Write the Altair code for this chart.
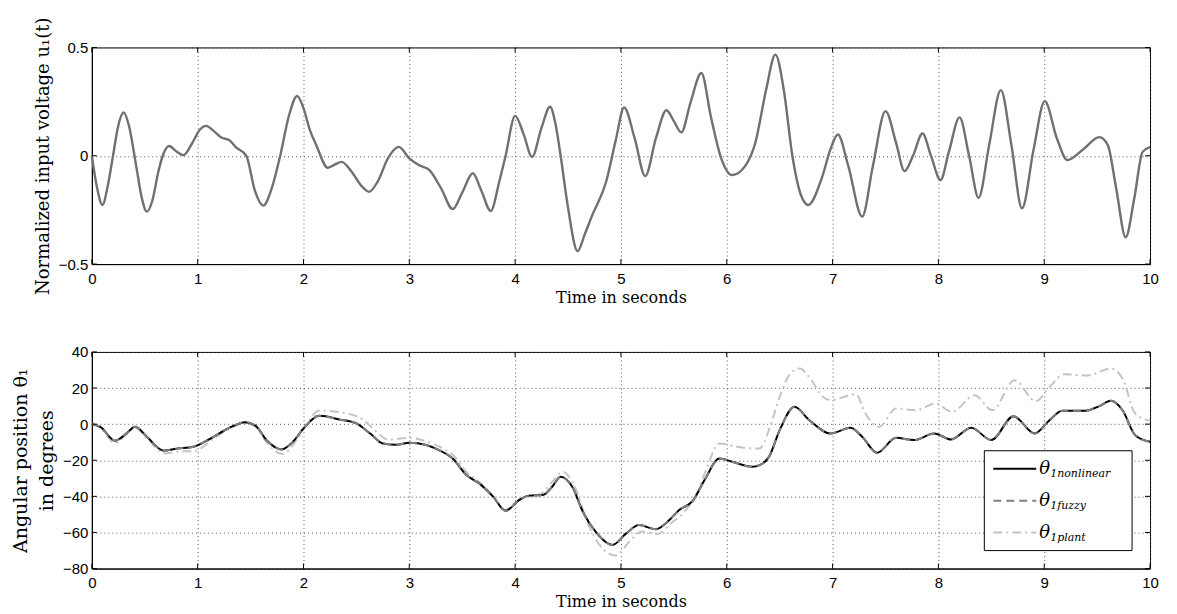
import altair as alt
import pandas as pd

# ---------------- data ----------------
t_u = [0.00, 0.05, 0.10, 0.15, 0.20, 0.25, 0.30, 0.35, 0.42, 0.47, 0.52, 0.57, 0.63, 0.67, 0.73, 0.80,
       0.865, 0.95, 1.02, 1.08, 1.15, 1.22, 1.30, 1.36, 1.46, 1.54, 1.62, 1.70, 1.78, 1.86, 1.94, 2.00,
       2.06, 2.12, 2.23, 2.30, 2.36, 2.45, 2.55, 2.62, 2.70, 2.80, 2.90, 3.00, 3.09, 3.19, 3.30, 3.41,
       3.50, 3.60, 3.68, 3.77, 3.85, 3.91, 4.00, 4.08, 4.16, 4.25, 4.33, 4.38, 4.43, 4.50, 4.59, 4.66,
       4.73, 4.86, 4.95, 5.03, 5.13, 5.23, 5.33, 5.43, 5.50, 5.57, 5.66, 5.76, 5.85, 5.94, 6.05, 6.18,
       6.27, 6.37, 6.46, 6.54, 6.62, 6.70, 6.77, 6.90, 6.98, 7.05, 7.15, 7.28, 7.38, 7.50, 7.60, 7.68,
       7.76, 7.85, 7.93, 8.02, 8.10, 8.20, 8.29, 8.38, 8.48, 8.59, 8.69, 8.79, 8.90, 9.005, 9.12, 9.22,
       9.37, 9.52, 9.60, 9.68, 9.77, 9.85, 9.93, 10.0]
u1 = [0.00, -0.15, -0.227, -0.14, 0.00, 0.14, 0.20, 0.14, -0.05, -0.19, -0.258, -0.21, -0.07, 0.00, 0.045, 0.02,
      0.003, 0.06, 0.12, 0.138, 0.115, 0.085, 0.072, 0.04, 0.00, -0.16, -0.23, -0.15, 0.00, 0.18, 0.276, 0.22,
      0.12, 0.05, -0.055, -0.04, -0.028, -0.07, -0.14, -0.166, -0.12, -0.01, 0.041, -0.012, -0.043, -0.066, -0.15, -0.246,
      -0.17, -0.081, -0.16, -0.255, -0.12, 0.00, 0.184, 0.10, -0.005, 0.13, 0.226, 0.15, 0.00, -0.24, -0.44, -0.36,
      -0.273, -0.12, 0.07, 0.223, 0.08, -0.094, 0.08, 0.21, 0.16, 0.108, 0.25, 0.382, 0.18, 0.00, -0.089, -0.043,
      0.06, 0.30, 0.467, 0.30, 0.00, -0.18, -0.227, -0.10, 0.03, 0.098, -0.05, -0.281, -0.05, 0.206, 0.06, -0.071,
      0.00, 0.103, 0.00, -0.112, 0.02, 0.177, 0.00, -0.194, 0.05, 0.303, 0.05, -0.243, 0.03, 0.252, 0.08, -0.02,
      0.03, 0.086, 0.05, -0.15, -0.376, -0.20, 0.018, 0.04]

t_nonlinear = [0.00, 0.08, 0.22, 0.32, 0.41, 0.52, 0.68, 0.80, 0.96, 1.15, 1.30, 1.45, 1.55, 1.65, 1.79, 1.90,
               2.00, 2.15, 2.34, 2.50, 2.63, 2.75, 2.88, 3.00, 3.16, 3.28, 3.41, 3.54, 3.66, 3.79, 3.91, 4.04,
               4.13, 4.26, 4.35, 4.43, 4.54, 4.64, 4.76, 4.92, 5.05, 5.17, 5.33, 5.46, 5.55, 5.68, 5.79, 5.93,
               6.05, 6.24, 6.31, 6.40, 6.50, 6.64, 6.78, 6.98, 7.17, 7.28, 7.42, 7.60, 7.77, 7.96, 8.12, 8.31,
               8.50, 8.71, 8.91, 9.05, 9.17, 9.39, 9.52, 9.63, 9.74, 9.86, 10.0]
theta_nonlinear = [0.0, -1.5, -9.2, -5.5, -1.5, -7.0, -14.7, -13.6, -12.5, -7.0, -2.0, 1.1, -1.0, -8.8, -14.0, -9.8,
                   -2.4, 4.6, 2.6, 0.4, -5.2, -10.7, -11.4, -10.3, -11.6, -14.4, -19.0, -28.2, -32.8, -40.0, -48.0, -42.0,
                   -39.6, -39.3, -34.7, -29.1, -34.7, -48.5, -59.5, -66.9, -60.5, -55.9, -58.2, -53.0, -47.6, -42.4, -31.0, -19.0,
                   -20.8, -23.6, -22.7, -18.0, -3.3, 9.6, 2.2, -5.2, -2.0, -7.0, -15.9, -7.6, -8.8, -5.2, -8.5, -2.0,
                   -8.8, 4.4, -5.2, 2.2, 7.4, 7.4, 10.0, 12.9, 7.7, -6.1, -9.8]

t_fuzzy = list(t_nonlinear)
theta_fuzzy = list(theta_nonlinear)

t_plant = [0.00, 0.08, 0.22, 0.32, 0.41, 0.52, 0.70, 0.85, 0.96, 1.15, 1.30, 1.45, 1.55, 1.65, 1.80, 1.92,
           2.02, 2.15, 2.40, 2.55, 2.65, 2.80, 3.00, 3.16, 3.30, 3.41, 3.55, 3.66, 3.79, 3.91, 4.04, 4.25,
           4.35, 4.45, 4.55, 4.70, 4.80, 4.95, 5.08, 5.20, 5.35, 5.47, 5.60, 5.72, 5.80, 5.93, 6.10, 6.25,
           6.31, 6.40, 6.50, 6.60, 6.69, 6.78, 6.91, 6.98, 7.22, 7.31, 7.44, 7.60, 7.79, 7.97, 8.13, 8.34,
           8.51, 8.72, 8.92, 9.05, 9.19, 9.41, 9.63, 9.74, 9.86, 10.0]
theta_plant = [0.0, -2.0, -10.5, -6.0, -2.0, -8.0, -16.2, -15.0, -15.0, -8.0, -2.5, 0.5, -1.5, -10.0, -16.5, -10.0,
               -1.0, 7.5, 6.0, 3.0, -2.0, -8.5, -7.6, -9.5, -13.0, -17.0, -27.0, -32.0, -40.0, -47.5, -41.5, -38.3,
               -32.0, -26.4, -33.0, -56.8, -67.0, -72.8, -65.0, -59.5, -60.8, -55.0, -48.5, -38.0, -26.0, -10.7, -12.5, -13.5,
               -13.5, -3.0, 15.0, 28.0, 30.8, 26.0, 15.0, 13.3, 16.6, 5.9, -1.5, 8.7, 7.7, 11.4, 6.8, 16.0,
               7.7, 24.3, 12.7, 20.6, 27.6, 27.0, 30.8, 25.2, 5.9, 1.8]

x_ticks = list(range(0, 11))
top_y_ticks = [-0.5, 0, 0.5]
bottom_y_ticks = [-80, -60, -40, -20, 0, 20, 40]
legend_labels = ["1nonlinear", "1fuzzy", "1plant"]

# ---------------- layout/style ----------------
W, H = 1060, 217
SERIF = "DejaVu Serif"
SANS = "Liberation Sans"

df_u = pd.DataFrame({"t": t_u, "v": u1})
df_nl = pd.DataFrame({"t": t_nonlinear, "v": theta_nonlinear})
df_fz = pd.DataFrame({"t": t_fuzzy, "v": theta_fuzzy})
df_pl = pd.DataFrame({"t": t_plant, "v": theta_plant})
df_xt = pd.DataFrame({"t": x_ticks})
df_one = pd.DataFrame({"a": [0]})

AX_COMMON = dict(grid=True, gridDash=[1, 3], gridColor="#444", gridOpacity=0.9, ticks=False,
                 labelFont=SANS, labelFontSize=15, labelColor="black", labelFlush=False,
                 titleFont=SERIF, titleFontWeight="normal", titleColor="black",
                 domainColor="black")


def x_enc():
    return alt.X("t:Q", scale=alt.Scale(domain=[0, 10], nice=False),
                 axis=alt.Axis(values=x_ticks, format="d", title="Time in seconds",
                               titleFontSize=16, labelPadding=7, titlePadding=3, **AX_COMMON))


def y_enc(domain, ticks, fmt, title, tpad, tsize):
    return alt.Y("v:Q", scale=alt.Scale(domain=domain, nice=False),
                 axis=alt.Axis(values=ticks, format=fmt, title=title, titleFontSize=tsize,
                               titleLineHeight=26, labelPadding=4, titlePadding=tpad, **AX_COMMON))


def tick_layers(yticks, xe, ye):
    df_yt = pd.DataFrame({"v": yticks})
    base_x = alt.Chart(df_xt).mark_rule(color="black", strokeWidth=1)
    base_y = alt.Chart(df_yt).mark_rule(color="black", strokeWidth=1)
    return [
        base_x.encode(x=xe(), y=alt.value(H), y2=alt.value(H - 5)),
        base_x.encode(x=xe(), y=alt.value(0), y2=alt.value(5)),
        base_y.encode(y=ye(), x=alt.value(0), x2=alt.value(5)),
        base_y.encode(y=ye(), x=alt.value(W), x2=alt.value(W - 5)),
    ]


def ye_top():
    return y_enc([-0.5, 0.5], top_y_ticks, "~g", "Normalized input voltage u\u2081(t)", 6, 18)


def ye_bot():
    return y_enc([-80, 40], bottom_y_ticks, "d", ["Angular position \u03b8\u2081", "in degrees"], 6, 19)


top_line = alt.Chart(df_u).mark_line(color="#707070", strokeWidth=2.4, interpolate="monotone").encode(
    x=x_enc(), y=ye_top())
top = alt.layer(top_line, *tick_layers(top_y_ticks, x_enc, ye_top)).properties(width=W, height=H)

plant_line = alt.Chart(df_pl).mark_line(color="#c4c4c4", strokeWidth=2, strokeDash=[9, 4, 2, 4],
                                        interpolate="monotone").encode(x=x_enc(), y=ye_bot())
nl_line = alt.Chart(df_nl).mark_line(color="black", strokeWidth=2, interpolate="monotone").encode(
    x=x_enc(), y=ye_bot())
fz_line = alt.Chart(df_fz).mark_line(color="#808080", strokeWidth=2, strokeDash=[8, 5],
                                     interpolate="monotone").encode(x=x_enc(), y=ye_bot())

# legend (manual, to allow subscripts)
leg_box = alt.Chart(df_one).mark_rect(fill="white", stroke="black", strokeWidth=1).encode(
    x=alt.value(894), x2=alt.value(1042), y=alt.value(99), y2=alt.value(199))
leg_rows = [117, 149, 181]
leg_styles = [dict(color="black"), dict(color="#808080", strokeDash=[8, 5]),
              dict(color="#c4c4c4", strokeDash=[9, 4, 2, 4])]
leg_layers = [leg_box]
for ry, lab, st in zip(leg_rows, legend_labels, leg_styles):
    leg_layers.append(alt.Chart(df_one).mark_rule(strokeWidth=2, **st).encode(
        x=alt.value(903), x2=alt.value(946), y=alt.value(ry)))
    leg_layers.append(alt.Chart(df_one).mark_text(
        text="\u03b8", font=SERIF, fontStyle="italic", fontSize=18, align="left", baseline="middle",
        color="black").encode(x=alt.value(949), y=alt.value(ry)))
    leg_layers.append(alt.Chart(df_one).mark_text(
        text=lab, font=SERIF, fontStyle="italic", fontSize=11, align="left", baseline="middle",
        color="black").encode(x=alt.value(960), y=alt.value(ry + 5)))

bottom = alt.layer(plant_line, nl_line, fz_line, *tick_layers(bottom_y_ticks, x_enc, ye_bot),
                   *leg_layers).properties(width=W, height=H)

chart = alt.vconcat(top, bottom, spacing=88, bounds="flush").properties(
    padding={"left": 3, "top": 7, "right": 10, "bottom": 2},
    background="white"
).configure_view(stroke="black", strokeWidth=1)

chart.save("out.html", embed_options={"renderer": "svg", "actions": False})
